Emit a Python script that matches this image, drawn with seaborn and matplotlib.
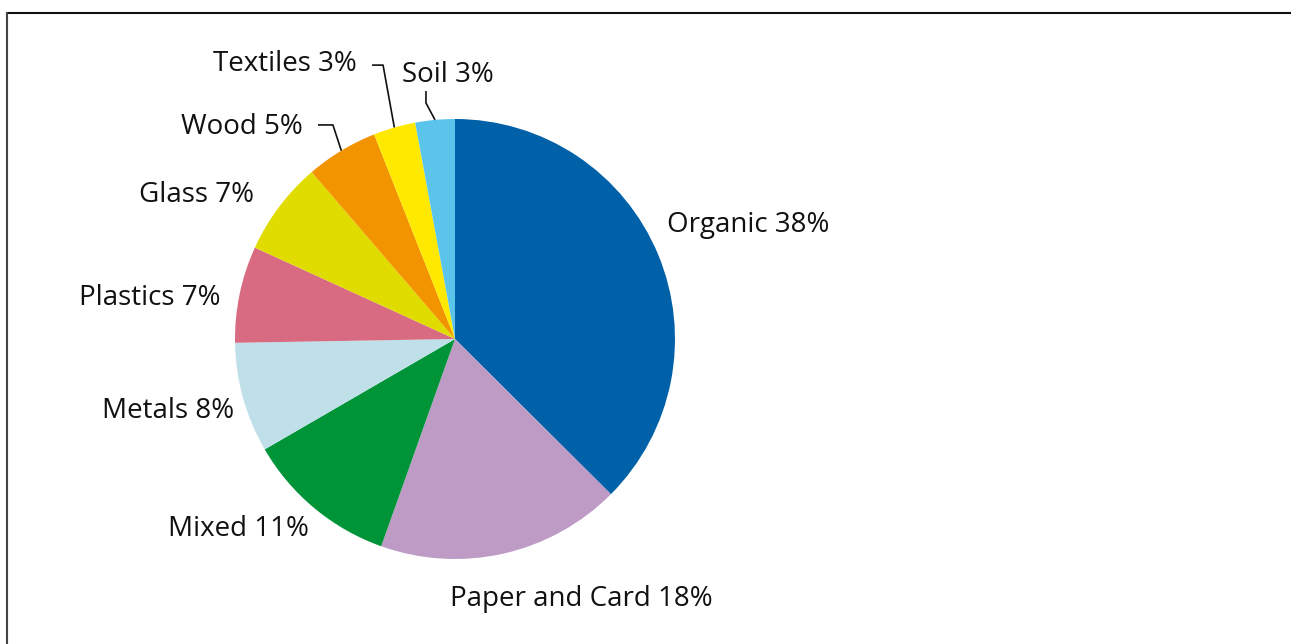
import numpy as np
import matplotlib
matplotlib.use("Agg")
import matplotlib.pyplot as plt
from matplotlib.lines import Line2D
import seaborn as sns

categories = ["Organic", "Paper and Card", "Mixed", "Metals", "Plastics",
              "Glass", "Wood", "Textiles", "Soil"]
shares = [37.5, 18.0, 11.2, 8.1, 7.1, 6.9, 5.3, 3.1, 2.9]
label_pct = [38, 18, 11, 8, 7, 7, 5, 3, 3]
colors = ["#0061a8", "#bd9bc5", "#009439", "#bfe0e8", "#d86a82",
          "#e0dc00", "#f29400", "#ffe900", "#5bc4eb"]

sns.set_theme(style="white")
plt.rcParams["font.family"] = ["Open Sans", "DejaVu Sans"]

W, H, DPI = 1291, 644, 100
fig = plt.figure(figsize=(W / DPI, H / DPI), dpi=DPI)
ax = fig.add_axes([0, 0, 1, 1])
scale = 220.0
cx, cy = 455.0, 339.0

wedges, _ = ax.pie(shares, colors=colors, startangle=90, counterclock=False,
                   radius=1.0, normalize=True, wedgeprops=dict(linewidth=0))
ax.set_xlim(-cx / scale, (W - cx) / scale)
ax.set_ylim(-(H - cy) / scale, cy / scale)
ax.set_aspect("auto")
ax.axis("off")

labels = [f"{c} {v}%" for c, v in zip(categories, label_pct)]
# label anchor positions (data units) and alignment
label_pos = {
    "Organic": (0.962, 0.518, "left"),
    "Paper and Card": (-0.025, -1.182, "left"),
    "Mixed": (-0.664, -0.864, "right"),
    "Metals": (-1.005, -0.328, "right"),
    "Plastics": (-1.068, 0.186, "right"),
    "Glass": (-0.914, 0.654, "right"),
    "Wood": (-0.691, 0.963, "right"),
    "Textiles": (-0.445, 1.25, "right"),
    "Soil": (-0.241, 1.2, "left"),
}
fs = 20
for c, lab in zip(categories, labels):
    x, y, ha = label_pos[c]
    ax.text(x, y, lab, ha=ha, va="center", fontsize=fs, color="#111111")

# leader lines for small slices
elbows = {
    "Wood": [(-0.623, 0.973), (-0.555, 0.973)],
    "Textiles": [(-0.377, 1.245), (-0.327, 1.245)],
    "Soil": [(-0.132, 1.127), (-0.132, 1.073)],
}
for w, c in zip(wedges, categories):
    if c in elbows:
        ang = np.deg2rad((w.theta1 + w.theta2) / 2)
        ex, ey = np.cos(ang), np.sin(ang)
        pts = elbows[c] + [(ex, ey)]
        ax.plot([p[0] for p in pts], [p[1] for p in pts], color="#111111",
                lw=1.2, solid_capstyle="butt")

# frame lines (top and left)
fig.add_artist(Line2D([7 / W, 1.0], [1 - 12.5 / H, 1 - 12.5 / H],
                      transform=fig.transFigure, color="#111111", lw=1.5))
fig.add_artist(Line2D([7 / W, 7 / W], [0, 1 - 12.5 / H],
                      transform=fig.transFigure, color="#444444", lw=1.5))

fig.savefig("out.png", dpi=DPI, facecolor="white")
